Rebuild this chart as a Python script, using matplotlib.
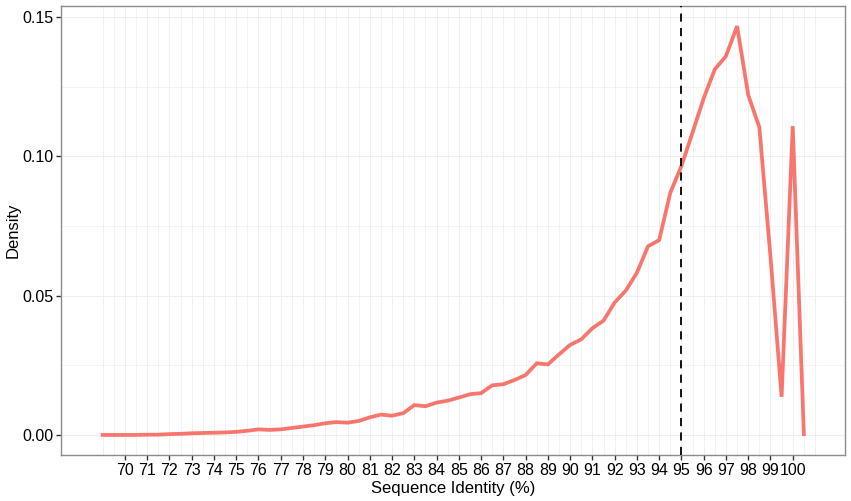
import numpy as np
import matplotlib
matplotlib.use("Agg")
import matplotlib.pyplot as plt

# sequence identity (%) and density
identity = [69, 69.5, 70, 70.5, 71, 71.5, 72, 72.5, 73, 73.5, 74, 74.5, 75, 75.5,
            76, 76.5, 77, 77.5, 78, 78.5, 79, 79.5, 80, 80.5, 81, 81.5, 82, 82.5,
            83, 83.5, 84, 84.5, 85, 85.5, 86, 86.5, 87, 87.5, 88, 88.5, 89, 89.5,
            90, 90.5, 91, 91.5, 92, 92.5, 93, 93.5, 94, 94.5, 95, 95.5, 96, 96.5,
            97, 97.5, 98, 98.5, 99, 99.5, 100, 100.5]
density = [0.0, 0.0, 0.0, 0.0, 0.0001, 0.0001, 0.0003, 0.0004, 0.0006, 0.0007,
           0.0008, 0.0009, 0.0011, 0.0015, 0.0020, 0.0018, 0.0020, 0.0025, 0.0030,
           0.0035, 0.0042, 0.0046, 0.0044, 0.0050, 0.0063, 0.0073, 0.0069, 0.0078,
           0.0107, 0.0103, 0.0116, 0.0123, 0.0134, 0.0146, 0.0150, 0.0178, 0.0182,
           0.0197, 0.0215, 0.0257, 0.0253, 0.0289, 0.0323, 0.0343, 0.0383, 0.0410,
           0.0475, 0.0518, 0.0582, 0.0677, 0.0699, 0.0869, 0.0965, 0.1085, 0.1208,
           0.1312, 0.1359, 0.1467, 0.1220, 0.1104, 0.0640, 0.0137, 0.1108, 0.0003]
x_ticks = list(range(70, 101))
y_ticks = [0.00, 0.05, 0.10, 0.15]
cutoff = 95

plt.rcParams['font.family'] = ['Liberation Sans', 'DejaVu Sans']

fig = plt.figure(figsize=(8.51, 5.01), dpi=100)
ax = fig.add_axes([0.0717, 0.0918, 0.9213, 0.8962])

# ggplot-like grid: majors + minors
for gx in np.arange(69, 101.5, 0.5):
    ax.axvline(gx, color='#efefef', lw=0.7 if gx % 1 == 0 else 0.5, zorder=0)
for gy in np.arange(0, 0.16, 0.025):
    ax.axhline(gy, color='#efefef', lw=0.7 if round(gy / 0.025) % 2 == 0 else 0.5, zorder=0)

ax.plot(identity, density, color='#F8766D', lw=2.7, solid_joinstyle='miter', zorder=3)
ax.axvline(cutoff, color='black', lw=1.3, ls=(0, (4.5, 3.5)), zorder=4)

ax.set_xlim(67.13, 102.35)
ax.set_ylim(-0.0072, 0.1539)
ax.set_xticks(x_ticks)
ax.set_xticklabels([str(t) for t in x_ticks])
ax.set_yticks(y_ticks)
ax.set_yticklabels([f"{t:.2f}" for t in y_ticks])
ax.tick_params(axis='both', length=3.5, width=1, color='#333333',
               labelsize=11.5, labelcolor='black', pad=2)

for s in ax.spines.values():
    s.set_color('#8c8c8c')
    s.set_linewidth(1.0)

ax.set_xlabel("Sequence Identity (%)", fontsize=12, va='center')
ax.set_ylabel("Density", fontsize=12, va='center')
ax.xaxis.set_label_coords(0.5, -0.0735)
ax.yaxis.set_label_coords(-0.061, 0.5)

fig.savefig("out.png", dpi=100)
